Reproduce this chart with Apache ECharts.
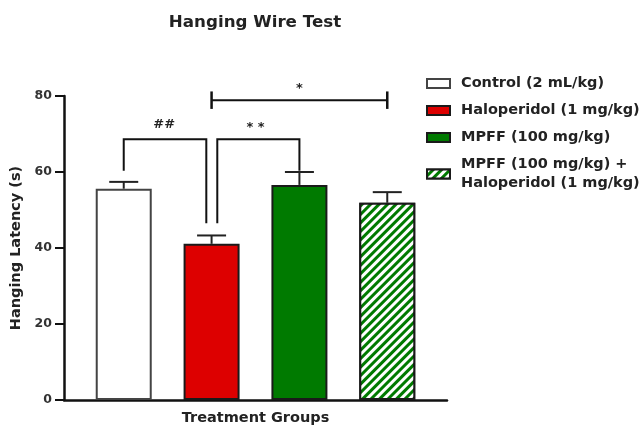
<!DOCTYPE html>
<html>
<head>
<meta charset="utf-8">
<script src="https://cdn.jsdelivr.net/npm/echarts@6/dist/echarts.min.js"></script>
<style>html,body{margin:0;padding:0;background:#fff}#c{width:639px;height:427px}</style>
</head>
<body>
<div id="c"></div>
<script>
const groups = ['Control (2 mL/kg)', 'Haloperidol (1 mg/kg)', 'MPFF (100 mg/kg)', 'MPFF (100 mg/kg) +\nHaloperidol (1 mg/kg)'];
const means = [55.6, 41.1, 56.6, 51.9];
const sems = [1.8, 2.2, 3.4, 2.8];
const colors = ['#ffffff', '#dd0000', '#007a00', '#007a00'];
const yTicks = [0, 20, 40, 60, 80];
// significance annotations, in data units (x = group index, y = latency)
const bracketHash = [[0, 60.3], [0, 68.6], [0.94, 68.6], [0.94, 46.5]];
const bracketStar2 = [[1.065, 46.5], [1.065, 68.6], [2, 68.6], [2, 60.3]];
const bracketStar1 = [[1, 78.9], [3, 78.9]];
const labels = [{ text: '##', x: 0.46, y: 72.5 }, { text: '* *', x: 1.5, y: 71.7 }, { text: '*', x: 2.0, y: 82.0 }];

const chart = echarts.init(document.getElementById('c'));
const FONT = '"DejaVu Sans", sans-serif';

const barSeries = groups.map((g, i) => {
  const itemStyle = {
    color: colors[i],
    borderColor: i === 0 ? '#444' : '#1a1a1a',
    borderWidth: 2
  };
  if (i === 3) {
    itemStyle.decal = {
      symbol: 'rect', symbolSize: 1, color: '#ffffff',
      dashArrayX: [1, 0], dashArrayY: [2.5, 2.5], rotation: -Math.PI / 4
    };
  }
  return {
    name: g,
    type: 'bar',
    barWidth: 56,
    barGap: '-100%',
    data: [[i, means[i]]],
    itemStyle: itemStyle,
    z: 2
  };
});

const errSeries = {
  type: 'custom',
  silent: true,
  z: 3,
  data: means.map((m, i) => [i, m, m + sems[i]]),
  renderItem: function (params, api) {
    const p0 = api.coord([api.value(0), api.value(1)]);
    const p1 = api.coord([api.value(0), api.value(2)]);
    return {
      type: 'group',
      children: [
        { type: 'line', shape: { x1: p0[0], y1: p0[1], x2: p1[0], y2: p1[1] }, style: { stroke: '#222', lineWidth: 2 } },
        { type: 'line', shape: { x1: p1[0] - 14.5, y1: p1[1], x2: p1[0] + 14.5, y2: p1[1] }, style: { stroke: '#222', lineWidth: 2 } }
      ]
    };
  }
};

const brackets = [bracketHash, bracketStar2, bracketStar1];
const bracketSeries = {
  type: 'custom',
  silent: true,
  z: 4,
  data: [0, 1, 2],
  renderItem: function (params, api) {
    const idx = params.dataIndex;
    const pts = brackets[idx].map(p => api.coord(p));
    const children = [{ type: 'polyline', shape: { points: pts }, style: { stroke: '#111', lineWidth: 2, fill: null } }];
    if (idx === 2) {
      const a = api.coord([bracketStar1[0][0], bracketStar1[0][1] + 2.3]);
      const b = api.coord([bracketStar1[0][0], bracketStar1[0][1] - 2.3]);
      const c = api.coord([bracketStar1[1][0], bracketStar1[1][1] + 2.3]);
      const d = api.coord([bracketStar1[1][0], bracketStar1[1][1] - 2.3]);
      children.push({ type: 'line', shape: { x1: a[0], y1: a[1], x2: b[0], y2: b[1] }, style: { stroke: '#111', lineWidth: 2.5 } });
      children.push({ type: 'line', shape: { x1: c[0], y1: c[1], x2: d[0], y2: d[1] }, style: { stroke: '#111', lineWidth: 2.5 } });
    }
    const lb = labels[idx];
    const lp = api.coord([lb.x, lb.y]);
    children.push({ type: 'text', x: lp[0], y: lp[1], style: { text: lb.text, fill: '#222', font: 'bold 13px ' + FONT, align: 'center', verticalAlign: 'middle' } });
    return { type: 'group', children: children };
  }
};

chart.setOption({
  backgroundColor: '#fff',
  animation: false,
  title: {
    text: 'Hanging Wire Test',
    left: 255, top: 14, textAlign: 'center', padding: 0,
    textStyle: { fontFamily: FONT, fontSize: 16.7, fontWeight: 'bold', color: '#222' }
  },
  legend: {
    orient: 'vertical',
    left: 426, top: 74, padding: 0,
    itemWidth: 23, itemHeight: 9,
    itemGap: 8,
    icon: 'rect',
    data: groups,
    textStyle: { fontFamily: FONT, fontSize: 14.5, fontWeight: 'bold', color: '#222', lineHeight: 19, padding: [0, 0, 0, 6] }
  },
  grid: { left: 64, top: 96, width: 383, height: 304, outerBoundsMode: 'none' },
  xAxis: {
    type: 'value', min: -0.68, max: 3.68,
    name: 'Treatment Groups', nameLocation: 'middle', nameGap: 11,
    nameTextStyle: { fontFamily: FONT, fontSize: 14.5, fontWeight: 'bold', color: '#222' },
    axisLine: { show: true, onZero: false, lineStyle: { color: '#111', width: 2.5 } },
    axisTick: { show: false }, axisLabel: { show: false }, splitLine: { show: false }
  },
  yAxis: {
    type: 'value', min: yTicks[0], max: yTicks[yTicks.length - 1], interval: 20,
    name: 'Hanging Latency (s)', nameLocation: 'middle', nameGap: 38,
    nameTextStyle: { fontFamily: FONT, fontSize: 14.5, fontWeight: 'bold', color: '#222' },
    axisLine: { show: true, onZero: false, lineStyle: { color: '#111', width: 2.5 } },
    axisTick: { show: true, length: 9, lineStyle: { color: '#111', width: 2 } },
    axisLabel: { fontFamily: FONT, fontSize: 12.5, fontWeight: 'bold', color: '#333', margin: 12 },
    splitLine: { show: false }
  },
  series: barSeries.concat([errSeries, bracketSeries])
});
</script>
</body>
</html>
